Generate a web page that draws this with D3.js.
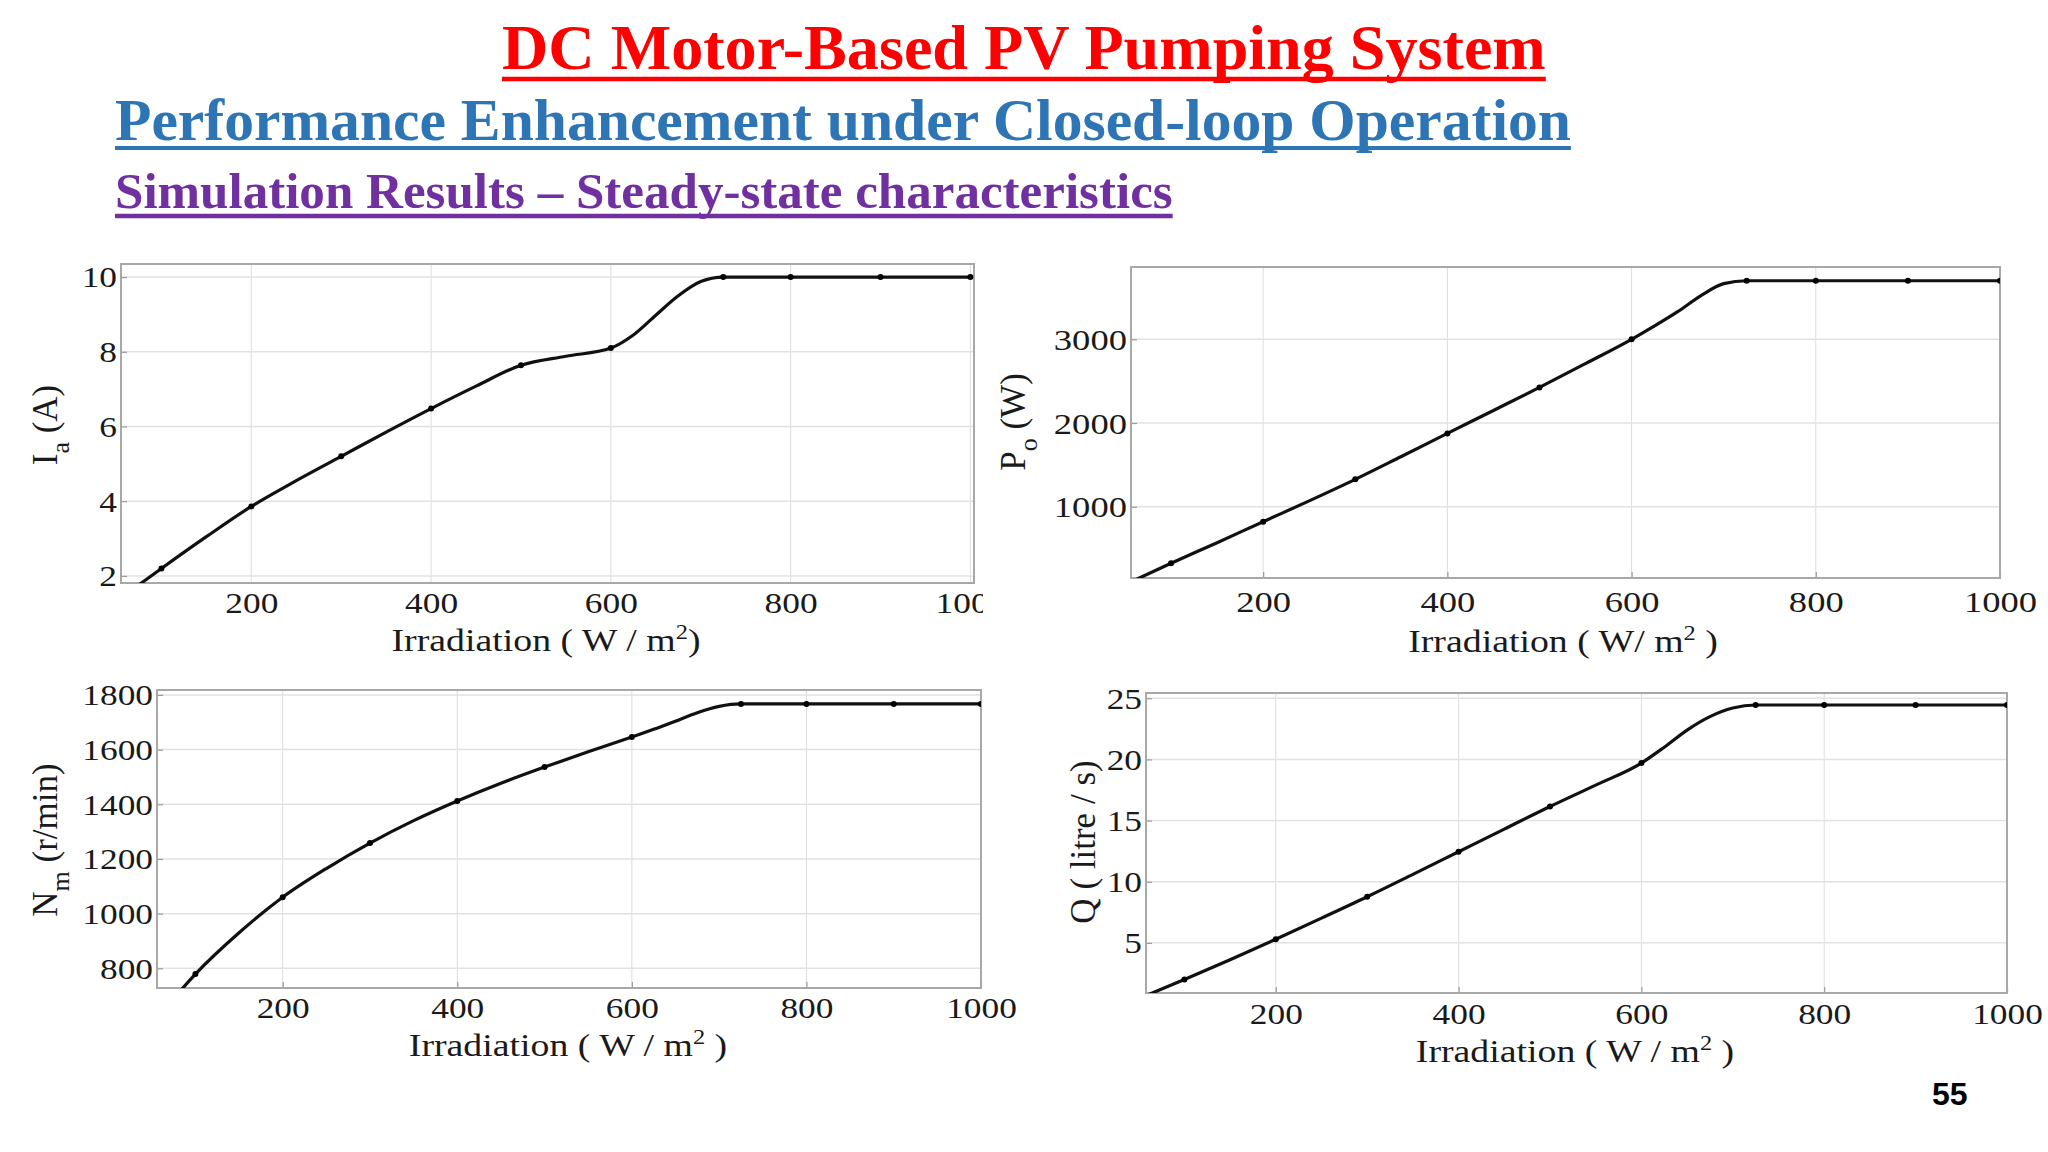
<!DOCTYPE html>
<html>
<head>
<meta charset="utf-8">
<script src="https://cdn.jsdelivr.net/npm/d3@7"></script>
<style>
  html, body { margin: 0; padding: 0; background: #fff; }
  svg { display: block; }
  text { font-family: "Liberation Serif", "Times New Roman", serif; }
</style>
</head>
<body>
<svg id="chart" width="2048" height="1152"></svg>
<script>
// ---------------- DATA ----------------
const irradiance = [60, 100, 150, 200, 250, 300, 350, 400, 450, 500, 550, 600, 625, 650, 675, 700, 725, 800, 900, 1000];
const currentIa  = [1.5, 2.2, 3.05, 3.86, 4.55, 5.2, 5.85, 6.48, 7.08, 7.64, 7.88, 8.1, 8.45, 8.98, 9.5, 9.88, 10.0, 10.0, 10.0, 10.0];
const powerPo    = [120, 324, 570, 821, 1070, 1327, 1600, 1876, 2150, 2425, 2710, 3000, 3160, 3330, 3520, 3665, 3700, 3700, 3700, 3700];
const speedNm    = [632, 779, 930, 1060, 1165, 1258, 1340, 1412, 1477, 1536, 1592, 1646, 1674, 1704, 1735, 1758, 1767, 1767, 1767, 1767];
const flowQ      = [0.75, 2.0, 3.62, 5.3, 7.02, 8.77, 10.6, 12.45, 14.3, 16.15, 17.9, 19.7, 21.0, 22.4, 23.5, 24.2, 24.45, 24.45, 24.45, 24.45];
const markerIrradiance = [100, 200, 300, 400, 500, 600, 725, 800, 900, 1000];

const xTickValues  = [200, 400, 600, 800, 1000];
const iaTickValues = [2, 4, 6, 8, 10];
const poTickValues = [1000, 2000, 3000];
const nmTickValues = [800, 1000, 1200, 1400, 1600, 1800];
const qTickValues  = [5, 10, 15, 20, 25];

const titleMain = "DC Motor-Based PV Pumping System";
const titleSub  = "Performance Enhancement under Closed-loop Operation";
const titleSub2 = "Simulation Results \u2013 Steady-state characteristics";
const pageNumber = "55";

// ---------------- LAYOUT ----------------
const svg = d3.select("#chart");
const defs = svg.append("defs");
const STRETCH = 1.22;

const panels = [
  { id: "ia", values: currentIa, ticks: iaTickValues, tickSize: 29,
    box: { l: 121, t: 264, r: 974, b: 583 }, xDomain: [55, 1004], yDomain: [1.81, 10.35],
    tickBase: 30, xLabel: { x: 546, y: 651, parts: ["Irradiation ( W / m", "2", ")"] },
    yLabel: { x: 57, y: 425, main: "I", sub: "a", rest: " (A)" }, labelClip: 983 },
  { id: "po", values: powerPo, ticks: poTickValues, tickSize: 30,
    box: { l: 1131, t: 267, r: 2000, b: 578 }, xDomain: [56.5, 1000], yDomain: [148, 3864],
    tickBase: 34, xLabel: { x: 1563, y: 652, parts: ["Irradiation ( W/ m", "2", " )"] },
    yLabel: { x: 1025, y: 422, main: "P", sub: "o", rest: " (W)" } },
  { id: "nm", values: speedNm, ticks: nmTickValues, tickSize: 29,
    box: { l: 157, t: 690, r: 981, b: 988 }, xDomain: [56, 1000], yDomain: [728, 1818],
    tickBase: 30, xLabel: { x: 568, y: 1056, parts: ["Irradiation ( W / m", "2", " )"] },
    yLabel: { x: 57, y: 840, main: "N", sub: "m", rest: " (r/min)" } },
  { id: "q", values: flowQ, ticks: qTickValues, tickSize: 29,
    box: { l: 1146, t: 693, r: 2007, b: 993 }, xDomain: [58, 1000], yDomain: [0.9, 25.43],
    tickBase: 31, xLabel: { x: 1575, y: 1062, parts: ["Irradiation ( W / m", "2", " )"] },
    yLabel: { x: 1095, y: 842, main: "Q ( litre / s)", sub: "", rest: "" } }
];

panels.forEach(p => {
  const b = p.box;
  const x = d3.scaleLinear().domain(p.xDomain).range([b.l, b.r]);
  const y = d3.scaleLinear().domain(p.yDomain).range([b.b, b.t]);
  const g = svg.append("g").attr("class", "panel-" + p.id);

  defs.append("clipPath").attr("id", "clip-" + p.id)
    .append("rect").attr("x", b.l).attr("y", b.t).attr("width", b.r - b.l).attr("height", b.b - b.t);

  // grid
  g.append("g").selectAll("line").data(xTickValues.filter(v => v < p.xDomain[1] - 1)).join("line")
    .attr("x1", d => x(d)).attr("x2", d => x(d)).attr("y1", b.t).attr("y2", b.b)
    .attr("stroke", "#dcdcdc").attr("stroke-width", 1);
  g.append("g").selectAll("line").data(p.ticks).join("line")
    .attr("x1", b.l).attr("x2", b.r).attr("y1", d => y(d)).attr("y2", d => y(d))
    .attr("stroke", "#e2e2e2").attr("stroke-width", 1.5);

  // axes (inward ticks)
  const xAxis = d3.axisBottom(x).tickValues(xTickValues).tickSize(-6).tickPadding(0).tickFormat(d3.format("d"));
  const yAxis = d3.axisLeft(y).tickValues(p.ticks).tickSize(-6).tickPadding(4).tickFormat(d3.format("d"));
  const gx = g.append("g").attr("transform", `translate(0,${b.b})`).call(xAxis);
  const gy = g.append("g").attr("transform", `translate(${b.l},0)`).call(yAxis);
  [gx, gy].forEach(ax => {
    ax.select(".domain").remove();
    ax.selectAll(".tick line").attr("stroke", "#999").attr("stroke-width", 1.2);
    ax.selectAll(".tick text").attr("fill", "#1a1a1a").style("font-size", p.tickSize + "px")
      .style("font-family", "'Liberation Serif', 'Times New Roman', serif")
      .attr("transform", `scale(${STRETCH},1)`);
  });
  gx.selectAll(".tick text").attr("y", p.tickBase).attr("dy", 0);
  gy.selectAll(".tick text").attr("dy", "0.34em").attr("x", -4 / STRETCH);
  if (p.labelClip) {
    defs.append("clipPath").attr("id", "lclip-" + p.id)
      .append("rect").attr("x", 0).attr("y", 0).attr("width", p.labelClip).attr("height", 1152);
    gx.attr("clip-path", `url(#lclip-${p.id})`);
  }

  // frame
  g.append("rect").attr("x", b.l).attr("y", b.t).attr("width", b.r - b.l).attr("height", b.b - b.t)
    .attr("fill", "none").attr("stroke", "#a8a8a8").attr("stroke-width", 2);

  // curve
  const data = irradiance.map((v, i) => ({ x: v, y: p.values[i] }));
  const line = d3.line().x(d => x(d.x)).y(d => y(d.y)).curve(d3.curveMonotoneX);
  const cg = g.append("g").attr("clip-path", `url(#clip-${p.id})`);
  cg.append("path").datum(data).attr("d", line)
    .attr("fill", "none").attr("stroke", "#111").attr("stroke-width", 3.2).attr("stroke-linejoin", "round");
  cg.selectAll("circle").data(data.filter(d => markerIrradiance.includes(d.x))).join("circle")
    .attr("cx", d => x(d.x)).attr("cy", d => y(d.y)).attr("r", 3).attr("fill", "#000");

  // x label
  const xl = g.append("text").attr("transform", `translate(${p.xLabel.x},${p.xLabel.y}) scale(${STRETCH},1)`)
    .attr("text-anchor", "middle").attr("fill", "#1a1a1a").style("font-size", "31px");
  xl.append("tspan").text(p.xLabel.parts[0]);
  xl.append("tspan").text(p.xLabel.parts[1]).attr("dy", -12).style("font-size", "20px");
  xl.append("tspan").text(p.xLabel.parts[2]).attr("dy", 12);

  // y label
  const yl = g.append("text").attr("transform", `translate(${p.yLabel.x},${p.yLabel.y}) rotate(-90)`)
    .attr("text-anchor", "middle").attr("fill", "#1a1a1a").style("font-size", "35px");
  yl.append("tspan").text(p.yLabel.main);
  if (p.yLabel.sub) {
    yl.append("tspan").text(p.yLabel.sub).attr("dy", 12).style("font-size", "26px");
    yl.append("tspan").text(p.yLabel.rest).attr("dy", -12);
  }
});

// ---------------- TITLES ----------------
function fittedTitle(txt, left, right, baseline, color, ulY, ulW, startSize) {
  const t = svg.append("text").attr("x", left).attr("y", baseline).attr("fill", color)
    .style("font-weight", "bold").style("font-size", startSize + "px").text(txt);
  const w = t.node().getComputedTextLength();
  const size = startSize * (right - left) / w;
  t.style("font-size", size + "px");
  const w2 = t.node().getComputedTextLength();
  svg.append("rect").attr("x", left).attr("y", ulY - ulW / 2).attr("width", w2).attr("height", ulW).attr("fill", color);
}
fittedTitle(titleMain, 502, 1546, 69, "#ff0000", 79, 4.5, 63);
fittedTitle(titleSub, 115, 1571, 140, "#2e75b6", 148, 4, 59);
fittedTitle(titleSub2, 115, 1173, 208, "#7030a0", 216, 4.5, 50);

svg.append("text").attr("x", 1932).attr("y", 1105).attr("fill", "#000")
  .style("font-family", "'Liberation Sans', Arial, sans-serif").style("font-weight", "bold")
  .style("font-size", "32px").text(pageNumber);
</script>
</body>
</html>
